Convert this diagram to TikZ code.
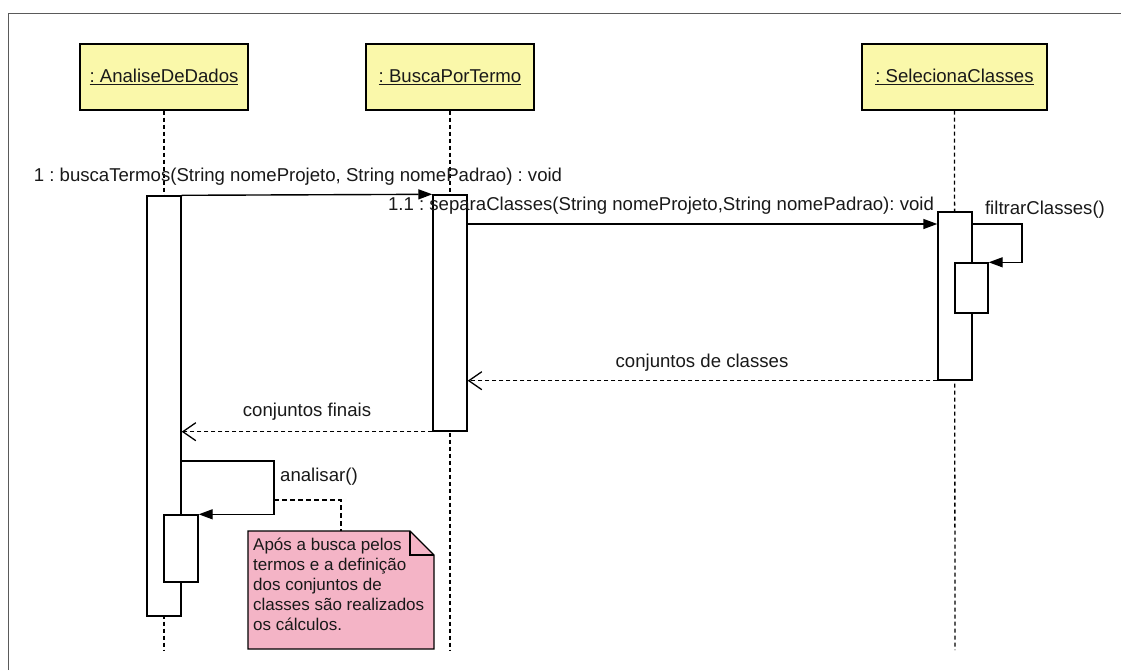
\documentclass[tikz,border=0pt]{standalone}
\usepackage{fontspec}
\setmainfont{Liberation Sans}
\usetikzlibrary{arrows.meta}
\definecolor{headfill}{RGB}{250,248,170}
\definecolor{notefill}{RGB}{244,180,198}
\definecolor{framegray}{RGB}{90,90,90}
\definecolor{txt}{RGB}{25,25,25}
\frenchspacing
\begin{document}
\begin{tikzpicture}[x=1pt,y=-1pt,
  every node/.style={font=\fontsize{18.6}{22}\selectfont, text=txt},
  head/.style={draw, line width=1.4pt, fill=headfill, minimum height=66pt, inner sep=0pt},
  act/.style={draw, line width=1.4pt, fill=white, minimum width=34pt, inner sep=0pt},
  lifeline/.style={line width=1.3pt, dash pattern=on 4pt off 3pt},
  msg/.style={line width=1.4pt, -{Triangle[length=14pt,width=10pt]}},
  ret/.style={line width=1.3pt, dash pattern=on 4pt off 3pt, -{Straight Barb[length=13pt,width=18pt,line width=1.3pt]}},
  lbl/.style={inner sep=0pt},
  notetext/.style={inner sep=0pt, font=\fontsize{17}{20}\selectfont}
]
\useasboundingbox (0,0) rectangle (1121,670);
% frame
\draw[framegray, line width=1pt] (8,670) -- (8,13) -- (1121,13);

% heads
\node[head, minimum width=168pt] (hA) at (164,77) {\underline{: AnaliseDeDados}};
\node[head, minimum width=168pt] (hB) at (450,77) {\underline{: BuscaPorTermo}};
\node[head, minimum width=185pt] (hC) at (954.5,77) {\underline{: SelecionaClasses}};

% lifeline ends
\coordinate (eA) at (164,650);
\coordinate (eB) at (450,650);
\coordinate (eC) at (955,650);
\draw[lifeline] (hA.south) -- (eA);
\draw[lifeline] (hB.south) -- (eB);
\draw[lifeline] (hC.south) -- (eC);

% activations
\node[act, minimum height=420pt] (actA) at (164,406) {};
\node[act, minimum height=67pt] (actA2) at (181,548.5) {};
\node[act, minimum height=236pt] (actB) at (450,313) {};
\node[act, minimum height=168pt] (actC) at (955,296) {};
\node[act, minimum width=33pt, minimum height=50pt] (actC2) at (971.5,288) {};

% message 1
\draw[msg] (actA.north east) -- (actB.north west);
\node[lbl] (l1) at (298,177) {1 : buscaTermos(String nomeProjeto, String nomePadrao) : void};

% message 1.1
\coordinate (m11s) at (467,224);
\draw[msg] (m11s) -- (actC.west |- m11s);
\node[lbl] (l11) at (661,206) {1.1 : separaClasses(String nomeProjeto,String nomePadrao): void};

% self message filtrarClasses
\coordinate (fs) at (972,224);
\draw[line width=1.4pt, -{Triangle[length=14pt,width=10pt]}] (fs) -- ++(50,0) |- (actC2.north east);
\node[lbl] (lf) at (1045,210) {filtrarClasses()};

% return conjuntos de classes
\draw[ret] (actC.south west) -- (actB.east |- actC.south);
\node[lbl] (lr1) at (702,363) {conjuntos de classes};

% return conjuntos finais
\draw[ret] (actB.south west) -- (actA.east |- actB.south);
\node[lbl] (lr2) at (307,412) {conjuntos finais};

% self message analisar
\coordinate (as) at (181,461);
\coordinate (ac) at (274,500);
\draw[line width=1.4pt, -{Triangle[length=14pt,width=10pt]}] (as) -- ++(93,0) |- (actA2.north east);
\node[lbl, anchor=west] (la) at (280,477) {analisar()};

% note
\draw[line width=1.4pt, fill=notefill] (248,531) -- (410,531) -- (434,555) -- (434,649) -- (248,649) -- cycle;
\draw[line width=1.2pt] (410,531) -- (410,555) -- (434,555);
\node[notetext, anchor=north west, align=left] (nt) at (253,538) {Após a busca pelos\\termos e a definição\\dos conjuntos de\\classes são realizados\\os cálculos.};
\coordinate (nc) at (341,531);
\draw[line width=1.3pt, dash pattern=on 5pt off 3pt] (ac) -| (nc);
\end{tikzpicture}
\end{document}
